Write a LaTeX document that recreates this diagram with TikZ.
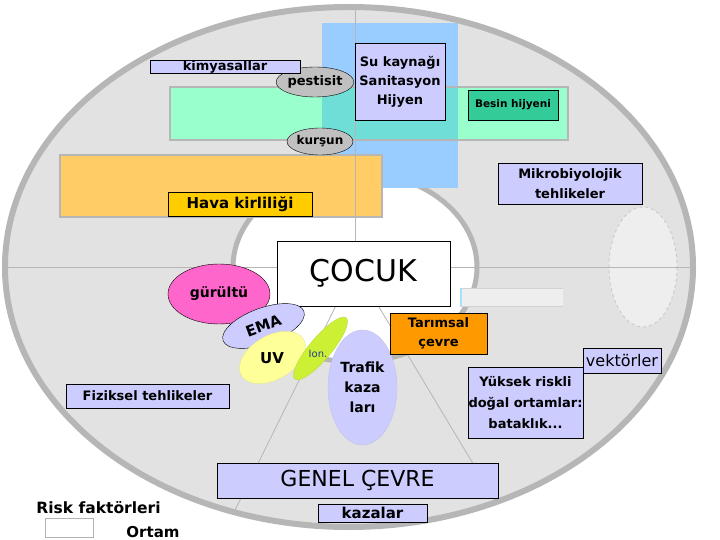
\documentclass[tikz,border=0pt]{standalone}
\usepackage{fontspec}
\setmainfont{DejaVu Sans}
\usetikzlibrary{shapes.geometric}
\definecolor{lav}{RGB}{204,204,255}
\definecolor{rimgray}{RGB}{182,182,182}
\definecolor{dotgray}{RGB}{226,226,226}
\definecolor{lightdot}{RGB}{238,238,238}
\definecolor{skyblue}{RGB}{153,204,255}
\definecolor{mint}{RGB}{153,255,204}
\definecolor{mixteal}{RGB}{110,222,214}
\definecolor{besin}{RGB}{51,204,153}
\definecolor{peach}{RGB}{255,204,102}
\definecolor{gold}{RGB}{255,204,0}
\definecolor{tarim}{RGB}{255,153,0}
\definecolor{pinkish}{RGB}{255,102,204}
\definecolor{paleyellow}{RGB}{255,255,153}
\definecolor{lime}{RGB}{204,240,51}
\definecolor{ellgray}{RGB}{192,192,192}
\definecolor{iontext}{RGB}{40,60,140}
\newcommand{\fsz}[2]{\fontsize{#1}{#2}\selectfont}

\begin{document}
\begin{tikzpicture}[x=1pt, y=-1pt,
    lavbox/.style={draw=black, fill=lav, inner sep=0pt, align=center, font=\bfseries\fsz{13}{19}},
    blob/.style={ellipse, draw=black, inner sep=0pt, font=\bfseries\fsz{13}{19}},
    rim/.style={draw=rimgray, line width=6pt},
    sector/.style={draw=rimgray, line width=0.8pt},
    panel/.style={draw=rimgray, line width=1.5pt}]
  \useasboundingbox (0,0) rectangle (720,540);
  % Background field
  \fill[dotgray] (349,267) ellipse (344 and 260);
  \fill[lightdot] (643,267) ellipse (34 and 60);
  \draw[gray!40, dashed, line width=1pt] (643,267) ellipse (34 and 60);
  % Child zone
  \filldraw[fill=white, draw=rimgray, line width=5pt] (355,267) ellipse (122 and 95);
  % Water, food and air panels
  \fill[skyblue] (322,23) rectangle (458,188);
  \fill[mint] (170,87) rectangle (568,140);
  \fill[mixteal] (322,87) rectangle (458,140);
  \draw[panel] (170,87) rectangle (568,140);
  \filldraw[fill=peach, panel] (60,155) rectangle (382,217);
  % Sector lines
  \begin{scope}
    \clip (349,267) ellipse (344 and 260);
    \draw[sector] (355,267) -- (355,0);
    \draw[sector] (0,267) -- (720,267);
    \draw[sector] (355,267) -- (125,733);
    \draw[sector] (355,267) -- (571,627);
  \end{scope}
  \draw[rim] (349,267) ellipse (344 and 260);
  % Faint strip right of the child
  \fill[lightdot] (460,288) rectangle (563,306);
  \draw[gray!35] (460,288) -- (563,288) (460,306) -- (563,306);
  \draw[cyan!35, line width=2pt] (461,288) -- (461,306);
  % Top cluster
  \node[blob, fill=ellgray, minimum width=76pt, minimum height=30pt] (pestisit) at (315,82) {pestisit};
  \node[lavbox, minimum width=150pt, minimum height=13pt, text height=8pt, text depth=0pt] (kimya) at (225,66.5) {kimyasallar};
  \node[lavbox, minimum width=90pt, minimum height=77pt] (su) at (400,81.5) {Su kaynağı\\Sanitasyon\\Hijyen};
  \node[draw=black, fill=besin, inner sep=0pt, minimum width=90pt, minimum height=30pt, font=\bfseries\fsz{10.5}{12}] (besin) at (513,105) {Besin hijyeni};
  \node[blob, fill=ellgray, minimum width=65pt, minimum height=27pt, font=\bfseries\fsz{12}{14}] (kursun) at (320,141.5) {kurşun};
  \node[draw=black, fill=gold, inner sep=0pt, minimum width=144pt, minimum height=24pt, font=\bfseries\fsz{15}{18}] (hava) at (240,204) {Hava kirliliği};
  \node[lavbox, minimum width=144pt, minimum height=41pt, font=\bfseries\fsz{13}{20}] (mikro) at (570,183.5) {Mikrobiyolojik\\tehlikeler};
  % Child
  \node[draw=black, fill=white, minimum width=173pt, minimum height=65pt, font=\fsz{30}{36}] (cocuk) at (363.5,273.5) {ÇOCUK};
  % Physical factors
  \node[blob, fill=pinkish, minimum width=102pt, minimum height=60pt, font=\bfseries\fsz{14}{16}] (gurultu) at (219,294) {gürültü};
  \node[blob, fill=lav, rotate=20, minimum width=86pt, minimum height=36pt, font=\bfseries\fsz{15}{18}] (ema) at (263.5,326) {EMA};
  \node[ellipse, draw=paleyellow!80!gray, fill=paleyellow, rotate=30, minimum width=72pt, minimum height=44pt] (uvell) at (272.5,357.5) {};
  \node[inner sep=0pt, font=\bfseries\fsz{15}{18}] (uv) at (272,358) {UV};
  \node[ellipse, draw=lime!80!gray, fill=lime, rotate=50, minimum width=80pt, minimum height=22pt] (ionell) at (320.5,348.5) {};
  \node[inner sep=0pt, text=iontext, font=\fsz{10}{12}] (ion) at (318,354) {Ion.};
  \node[blob, draw=lav!85!gray, fill=lav, minimum width=69pt, minimum height=115pt, align=center, font=\bfseries\fsz{14}{20}] (trafik) at (362.5,387.5) {Trafik\\kaza\\ları};
  \node[draw=black, fill=tarim, inner sep=0pt, minimum width=97pt, minimum height=41pt, align=center, font=\bfseries\fsz{13}{19}] (tarim) at (438.5,333.5) {Tarımsal\\çevre};
  \node[lavbox, minimum width=163pt, minimum height=24pt] (fizik) at (147.5,396) {Fiziksel tehlikeler};
  \node[draw=black, fill=lav, inner sep=0pt, minimum width=78pt, minimum height=25pt, font=\fsz{16}{18}] (vektor) at (622,360.5) {vektörler};
  \node[lavbox, minimum width=115pt, minimum height=71pt, font=\bfseries\fsz{13}{21}] (yuksek) at (525.5,402.5) {Yüksek riskli\\doğal ortamlar:\\bataklık...};
  % General environment
  \node[draw=black, fill=lav, inner sep=0pt, minimum width=281pt, minimum height=35pt, font=\fsz{22}{26}] (genel) at (357.5,480.5) {GENEL ÇEVRE};
  \node[lavbox, minimum width=109pt, minimum height=18pt, font=\bfseries\fsz{15}{18}] (kazalar) at (372.5,513) {kazalar};
  % Legend
  \node[font=\bfseries\fsz{15.5}{18}] (risk) at (98.5,508) {Risk faktörleri};
  \node[draw=gray!60, fill=white, minimum width=48pt, minimum height=19pt, inner sep=0pt] (legendbox) at (69,527.5) {};
  \node[font=\bfseries\fsz{15}{18}] (ortam) at (153,532) {Ortam};
\end{tikzpicture}
\end{document}
